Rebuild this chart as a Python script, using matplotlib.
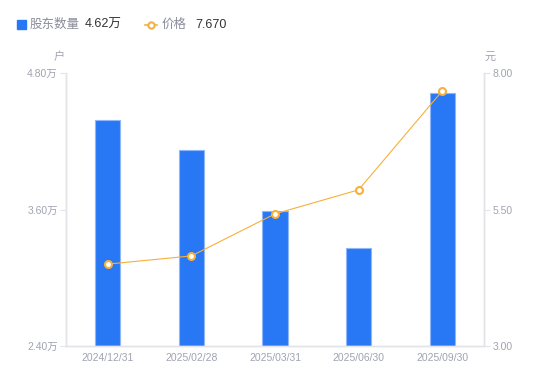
import matplotlib
matplotlib.use("Agg")
import matplotlib.pyplot as plt
import numpy as np

plt.rcParams['font.family'] = ['Liberation Sans', 'Noto Sans CJK SC', 'DejaVu Sans']

dates = ["2024/12/31", "2025/02/28", "2025/03/31", "2025/06/30", "2025/09/30"]
holders = [4.39, 4.12, 3.59, 3.26, 4.62]   # 万户
price = [4.50, 4.65, 5.42, 5.86, 7.67]     # 元

left_ticks = [2.40, 3.60, 4.80]
right_ticks = [3.00, 5.50, 8.00]

BLUE = "#2878f5"
ORANGE = "#f7b03a"
GRAY = "#a0a3b1"
AXCOL = "#e3e4e8"

fig = plt.figure(figsize=(5.5, 3.81), dpi=100)
ax = fig.add_axes([66 / 550, 35 / 381, 418 / 550, 273 / 381])
ax2 = ax.twinx()

x = np.arange(len(dates))
ax.bar(x, holders, width=0.3, color=BLUE, edgecolor="#8fb6fa", linewidth=0.8, zorder=2)
ax.set_xlim(-0.5, len(dates) - 0.5)
ax.set_ylim(left_ticks[0], left_ticks[-1])
ax.set_yticks(left_ticks)
ax.set_yticklabels(["%.2f万" % v for v in left_ticks])
ax.set_xticks(x)
ax.set_xticklabels(dates)

ax2.plot(x, price, color=ORANGE, linewidth=0.8, marker="o", markersize=5,
         markerfacecolor="white", markeredgecolor=ORANGE, markeredgewidth=1.5, zorder=3)
ax2.set_ylim(right_ticks[0], right_ticks[-1])
ax2.set_yticks(right_ticks)
ax2.set_yticklabels(["%.2f" % v for v in right_ticks])

for a in (ax, ax2):
    for s in a.spines.values():
        s.set_color(AXCOL)
        s.set_linewidth(1)
    a.spines['top'].set_visible(False)
    a.tick_params(colors=GRAY, labelsize=7.5, length=4, width=0.8)
    a.tick_params(axis='y', color=AXCOL, pad=2)
    a.tick_params(axis='x', length=0, pad=5)

fig.text(59 / 550, 1 - 57 / 381, "户", color=GRAY, fontsize=8, ha="center", va="center")
fig.text(490 / 550, 1 - 57 / 381, "元", color=GRAY, fontsize=8, ha="center", va="center")

# legend
fig.patches.append(plt.Rectangle((17 / 550, 1 - 29 / 381), 9 / 550, 9 / 381,
                                 transform=fig.transFigure, color=BLUE, figure=fig))
fig.text(30 / 550, 1 - 24.5 / 381, "股东数量", color="#8a8d99", fontsize=9, va="center")
fig.text(85 / 550, 1 - 24.5 / 381, "%.2f万" % holders[-1], color="#333333", fontsize=9, va="center")
fig.lines.append(plt.Line2D([145 / 550, 157 / 550], [1 - 24.5 / 381] * 2, transform=fig.transFigure,
                            color=ORANGE, linewidth=1.2))
fig.lines.append(plt.Line2D([151 / 550], [1 - 24.5 / 381], transform=fig.transFigure,
                            color=ORANGE, marker="o", markersize=4.5, markerfacecolor="white",
                            markeredgewidth=1.5, linestyle="none"))
fig.text(162 / 550, 1 - 24.5 / 381, "价格", color="#8a8d99", fontsize=9, va="center")
fig.text(195 / 550, 1 - 24.5 / 381, "%.3f" % price[-1], color="#333333", fontsize=9, va="center")

fig.savefig("out.png", dpi=100)
